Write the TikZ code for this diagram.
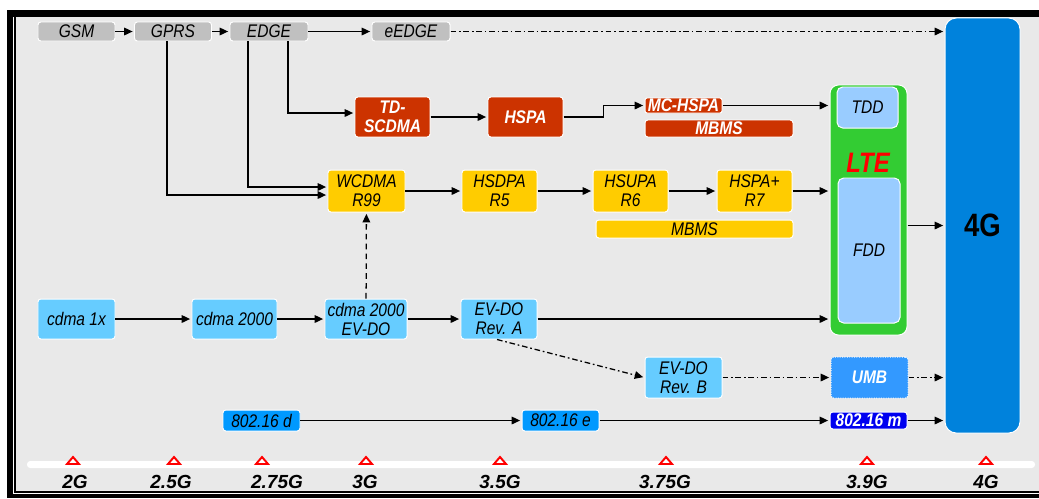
\documentclass[tikz,border=0pt]{standalone}
\usepackage{fontspec}
\setmainfont{Liberation Sans}[FakeStretch=0.85]
\newfontfamily\erafont{Liberation Sans}
\usetikzlibrary{arrows.meta,positioning,calc}

\begin{document}
\begin{tikzpicture}[x=0.25mm,y=-0.25mm,
  >={Triangle[length=2.1mm,width=1.9mm]},
  box/.style={rectangle,rounded corners=2pt,draw=white,fill=#1,line width=0.7pt,
              minimum width=19.25mm,minimum height=10mm,inner sep=0pt,align=center,
              font=\fontsize{13}{13.5}\selectfont\itshape},
  lite/.style={box=#1,minimum height=4.75mm},
  wtxt/.style={text=white,font=\fontsize{13}{13.5}\selectfont\bfseries\itshape},
  sig/.style={->,line width=0.9pt,shorten >=1pt},
  dd/.style={->,line width=0.9pt,shorten >=1pt,dash pattern=on 4pt off 2pt on 1.2pt off 2pt},
  tickmark/.style={draw=red,fill=white,line width=1.4pt,line join=miter},
  era/.style={font=\erafont\fontsize{13.5}{13.5}\selectfont\bfseries\itshape},
]
  \definecolor{bggray}{HTML}{E9E9E9}
  \definecolor{cgsm}{HTML}{C0C0C0}
  \definecolor{cred}{HTML}{CC3300}
  \definecolor{cyel}{HTML}{FFCC00}
  \definecolor{ccyan}{HTML}{66CCFF}
  \definecolor{cpale}{HTML}{99CCFF}
  \definecolor{cgreen}{HTML}{33CC33}
  \definecolor{cfour}{HTML}{0082DC}
  \definecolor{cumb}{HTML}{3399FF}
  \definecolor{cwimax}{HTML}{0099FF}
  \definecolor{cwimaxm}{HTML}{0000F0}

  \useasboundingbox (0,0) rectangle (1039,498);
  % frame
  \fill[black] (7,10) rectangle (1039,498);
  \fill[white] (13,17) rectangle (1039,494);
  \fill[black] (14,17) rectangle (1039,492.5);
  \fill[bggray] (15.5,17) rectangle (1039,491);

  % GSM family
  \node[lite=cgsm] (gsm) at (76.5,31.5) {GSM};
  \node[lite=cgsm] (gprs) at (173,31.5) {GPRS};
  \node[lite=cgsm,minimum width=19.5mm] (edge) at (269,31.5) {EDGE};
  \node[lite=cgsm,minimum width=19.5mm] (eedge) at (411,31.5) {eEDGE};

  \node[box=cred,wtxt,minimum width=18.75mm] (tdscdma) at (392.5,117) {TD-\\SCDMA};
  \node[box=cred,wtxt,minimum width=18.75mm] (hspa) at (525.5,117) {HSPA};
  \node[box=cred,wtxt,minimum height=3.75mm,rounded corners=1.5pt] (mchspa) at (683.5,105.5) {MC-HSPA};
  \node[box=cred,wtxt,minimum width=37mm,minimum height=4.25mm] (mbmsr) at (719,128.5) {MBMS};

  \node[box=cyel,minimum height=10.5mm] (wcdma) at (366.5,191) {WCDMA\\R99};
  \node[box=cyel,minimum width=18.75mm,minimum height=10.5mm] (hsdpa) at (499.5,191) {HSDPA\\R5};
  \node[box=cyel,minimum width=18.75mm,minimum height=10.5mm] (hsupa) at (630.5,191) {HSUPA\\R6};
  \node[box=cyel,minimum width=18.75mm,minimum height=10.5mm] (hspap) at (754.5,191) {HSPA+\\R7};
  \node[box=cyel,minimum width=49.25mm,minimum height=4.5mm] (mbmsy) at (694.5,229) {MBMS};

  % LTE and 4G
  \node[box=cgreen,rounded corners=6pt,minimum height=62.5mm] (lte) at (868.5,210) {};
  \node[box=cpale,rounded corners=4pt,minimum width=15.25mm,minimum height=10.25mm] (tdd) at (867.5,107.5) {TDD};
  \node[box=cpale,rounded corners=4pt,minimum width=15.5mm,minimum height=36.25mm] (fdd) at (869,250.5) {FDD};
  \node[text=red,font=\fontsize{20}{20}\selectfont\bfseries\itshape] (ltelab) at (868,163) {LTE};
  \node[box=cfour,rounded corners=8pt,minimum width=18.75mm,minimum height=103.75mm,
        font=\fontsize{23}{23}\selectfont\bfseries] (fourg) at (982.5,225.5) {4G};

  % CDMA family
  \node[box=ccyan] (cdmaone) at (76.5,319) {cdma 1x};
  \node[box=ccyan,minimum width=21.25mm] (cdmatwo) at (234.5,319) {cdma 2000};
  \node[box=ccyan,minimum width=20.5mm] (evdo) at (366,319) {cdma 2000\\EV-DO};
  \node[box=ccyan,minimum width=19mm] (evdoa) at (499,319) {EV-DO\\Rev. A};
  \node[box=ccyan,minimum height=10.25mm] (evdob) at (683.5,377.5) {EV-DO\\Rev. B};
  \node[box=cumb,wtxt,densely dotted,minimum height=10.25mm] (umb) at (869.5,377.5) {UMB};

  % WiMAX
  \node[box=cwimax,minimum height=5.25mm] (wimaxd) at (261.5,420.5) {802.16 d};
  \node[box=cwimax,minimum height=5.25mm] (wimaxe) at (560.5,420.5) {802.16 e};
  \node[box=cwimaxm,wtxt,minimum height=4.25mm] (wimaxm) at (868.5,420.5) {802.16 m};

  % connectors
  \draw[sig] (gsm) -- (gprs);
  \draw[sig] (gprs) -- (edge);
  \draw[sig] (edge) -- (eedge);
  \draw[dd] (eedge) -- (eedge -| fourg.west);
  \draw[sig] ($(gprs.south)+(-6,0)$) |- ($(wcdma.west)+(0,4)$);
  \draw[sig] ($(edge.south)+(-21,0)$) |- ($(wcdma.west)+(0,-4)$);
  \draw[sig] ($(edge.south)+(19,0)$) |- ($(tdscdma.west)+(0,-4)$);
  \draw[sig] (tdscdma) -- (hspa);
  \draw[sig] (hspa.east) -- ++(40,0) |- (mchspa.west);
  \draw[sig] (mchspa) -- (mchspa -| lte.west);
  \draw[sig] (wcdma) -- (hsdpa);
  \draw[sig] (hsdpa) -- (hsupa);
  \draw[sig] (hsupa) -- (hspap);
  \draw[sig] (hspap) -- (hspap -| lte.west);
  \draw[sig] (lte.east |- fourg.west) -- (fourg.west);
  \draw[sig] (cdmaone) -- (cdmatwo);
  \draw[sig] (cdmatwo) -- (evdo);
  \draw[sig] (evdo) -- (evdoa);
  \draw[sig] (evdoa) -- (evdoa -| lte.west);
  \draw[sig,dash pattern=on 4pt off 3pt] (evdo) -- (wcdma);
  \draw[dd] ($(evdoa.south)+(-2,0)$) -- (evdob.west);
  \draw[dd] (evdob) -- (umb);
  \draw[dd] (umb) -- (umb -| fourg.west);
  \draw[sig] (wimaxd) -- (wimaxe);
  \draw[sig] (wimaxe) -- (wimaxm);
  \draw[sig] (wimaxm) -- (wimaxm -| fourg.west);

  % timeline
  \fill[white,rounded corners=0.8mm] (27,461) rectangle (1035,468);
  \foreach \tx/\lx/\lab [count=\i] in {73/75/2G,174/171/2.5G,262/277/2.75G,366/365/3G,
      500/500/3.5G,666/665/3.75G,867/867/3.9G,986/986/4G}{
    \draw[tickmark] (\tx,457) -- ++(6,7) -- ++(-12,0) -- cycle;
    \node[era] (era\i) at (\lx,482) {\lab};
  }
\end{tikzpicture}
\end{document}
